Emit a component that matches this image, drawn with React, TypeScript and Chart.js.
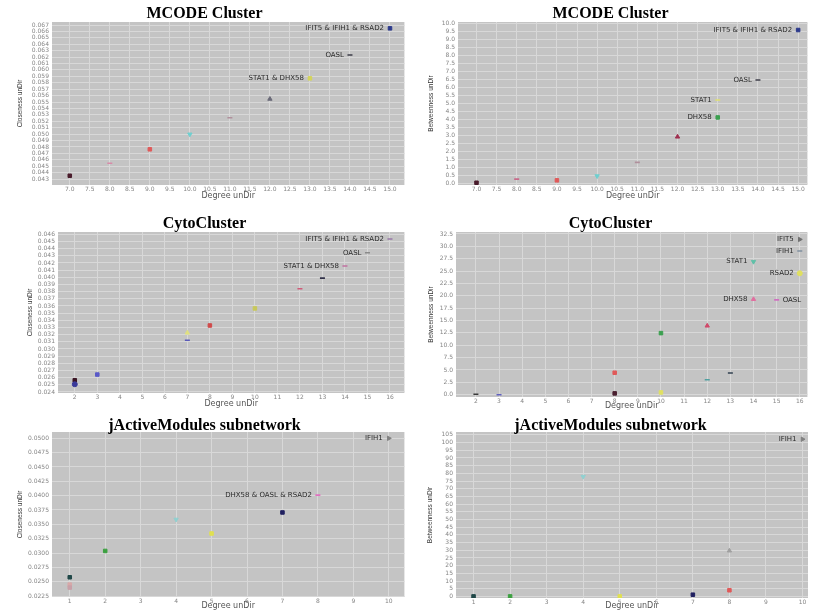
import React, { useEffect, useRef } from 'react';
import { Chart, registerables } from 'chart.js';

Chart.register(...registerables);

// ---------- Panel 1: MCODE Cluster, closeness ----------
const P1_DEGREE = [7, 8, 9, 10, 11, 12, 13, 14, 15];
const P1_CLOSENESS = [0.04351, 0.04545, 0.04763, 0.04997, 0.05255, 0.05547, 0.05869, 0.06232, 0.06648];
const P1_NAMES = ['', '', '', '', '', '', 'STAT1 & DHX58', 'OASL', 'IFIT5 & IFIH1 & RSAD2'];
const P1_X_TICKS = [7.0, 7.5, 8.0, 8.5, 9.0, 9.5, 10.0, 10.5, 11.0, 11.5, 12.0, 12.5, 13.0, 13.5, 14.0, 14.5, 15.0];
const P1_Y_TICKS = [0.043, 0.044, 0.045, 0.046, 0.047, 0.048, 0.049, 0.050, 0.051, 0.052, 0.053, 0.054, 0.055,
  0.056, 0.057, 0.058, 0.059, 0.060, 0.061, 0.062, 0.063, 0.064, 0.065, 0.066, 0.067];

// ---------- Panel 2: MCODE Cluster, betweenness ----------
const P2_DEGREE = [7, 8, 9, 10, 11, 12, 13, 13, 14, 15];
const P2_BETWEENNESS = [0.04, 0.27, 0.19, 0.46, 1.31, 2.91, 5.21, 4.12, 6.46, 9.58];
const P2_NAMES = ['', '', '', '', '', '', 'STAT1', 'DHX58', 'OASL', 'IFIT5 & IFIH1 & RSAD2'];
const P2_X_TICKS = P1_X_TICKS;
const P2_Y_TICKS = [0.0, 0.5, 1.0, 1.5, 2.0, 2.5, 3.0, 3.5, 4.0, 4.5, 5.0, 5.5, 6.0, 6.5, 7.0, 7.5, 8.0, 8.5, 9.0, 9.5, 10.0];

// ---------- Panel 3: CytoCluster, closeness ----------
const P3_DEGREE = [2, 2, 3, 7, 7, 8, 10, 12, 13, 14, 15, 16];
const P3_CLOSENESS = [0.02564, 0.02508, 0.02643, 0.03225, 0.03122, 0.03328, 0.03566, 0.0384, 0.03989, 0.04157, 0.04343, 0.04534];
const P3_NAMES = ['', '', '', '', '', '', '', '', '', 'STAT1 & DHX58', 'OASL', 'IFIT5 & IFIH1 & RSAD2'];
const P3_X_TICKS = [2, 3, 4, 5, 6, 7, 8, 9, 10, 11, 12, 13, 14, 15, 16];
const P3_Y_TICKS = [0.024, 0.025, 0.026, 0.027, 0.028, 0.029, 0.030, 0.031, 0.032, 0.033, 0.034, 0.035,
  0.036, 0.037, 0.038, 0.039, 0.040, 0.041, 0.042, 0.043, 0.044, 0.045, 0.046];

// ---------- Panel 4: CytoCluster, betweenness ----------
const P4_DEGREE = [2, 3, 8, 8, 10, 10, 12, 12, 13, 14, 14, 15, 16, 16, 16];
const P4_BETWEENNESS = [0.1, 0.0, 4.44, 0.26, 12.45, 0.46, 13.93, 3.03, 4.38, 26.9, 19.3, 19.18, 31.4, 29.07, 24.56];
const P4_NAMES = ['', '', '', '', '', '', '', '', '', 'STAT1', 'DHX58', 'OASL', 'IFIT5', 'IFIH1', 'RSAD2'];
const P4_SIDES = ['L', 'L', 'L', 'L', 'L', 'L', 'L', 'L', 'L', 'L', 'L', 'R', 'L', 'L', 'L'];
const P4_X_TICKS = P3_X_TICKS;
const P4_Y_TICKS = [0.0, 2.5, 5.0, 7.5, 10.0, 12.5, 15.0, 17.5, 20.0, 22.5, 25.0, 27.5, 30.0, 32.5];

// ---------- Panel 5: jActiveModules subnetwork, closeness ----------
const P5_DEGREE = [1, 1, 1, 2, 4, 5, 7, 8, 10];
const P5_CLOSENESS = [0.02577, 0.02449, 0.02397, 0.03036, 0.03585, 0.0334, 0.03707, 0.0401, 0.05];
const P5_NAMES = ['', '', '', '', '', '', '', 'DHX58 & OASL & RSAD2', 'IFIH1'];
const P5_X_TICKS = [1, 2, 3, 4, 5, 6, 7, 8, 9, 10];
const P5_Y_TICKS = [0.0225, 0.025, 0.0275, 0.03, 0.0325, 0.035, 0.0375, 0.04, 0.0425, 0.045, 0.0475, 0.05];

// ---------- Panel 6: jActiveModules subnetwork, betweenness ----------
const P6_DEGREE = [1, 2, 4, 5, 7, 8, 8, 10];
const P6_BETWEENNESS = [0, 0, 77.9, 0, 1.1, 29.7, 4.0, 102.2];
const P6_NAMES = ['', '', '', '', '', '', '', 'IFIH1'];
const P6_X_TICKS = P5_X_TICKS;
const P6_Y_TICKS = [0, 5, 10, 15, 20, 25, 30, 35, 40, 45, 50, 55, 60, 65, 70, 75, 80, 85, 90, 95, 100, 105];

// ---------- marker styles ----------
const P1_COLORS = ['#4a1c2c', '#d88aa8', '#e05a5a', '#6fcfcf', '#b0909c', '#6a6a78', '#d4d45a', '#3c3c48', '#2c3a8c'];
const P1_SHAPES = ['sq', 'ln', 'sq', 'td', 'ln', 'tu', 'sq', 'ln', 'sq'];
const P2_COLORS = ['#4a1c2c', '#c86a8a', '#e05a5a', '#6fcfcf', '#b0909c', '#a03050', '#e0e070', '#3ca050', '#3c3c48', '#2c3a8c'];
const P2_SHAPES = ['sq', 'ln', 'sq', 'td', 'ln', 'tu', 'ln', 'sq', 'ln', 'sq'];
const P3_COLORS = ['#3a1424', '#3a3a9a', '#5a5ac8', '#e0e080', '#5a5ab8', '#d04a4a', '#c8c85a', '#d05a78', '#303048', '#c070a0', '#8a8a8a', '#9878a8'];
const P3_SHAPES = ['sq', 'ci', 'sq', 'tu', 'ln', 'sq', 'sq', 'ln', 'ln', 'ln', 'ln', 'ln'];
const P4_COLORS = ['#3a3a3a', '#6060c0', '#e05a5a', '#4a2030', '#3ca050', '#e0e060', '#d04a6a', '#50a0a0', '#304050',
  '#60c0a8', '#e070a0', '#d070c0', '#707070', '#8090a0', '#e0e060'];
const P4_SHAPES = ['ln', 'ln', 'sq', 'sq', 'sq', 'sq', 'tu', 'ln', 'ln', 'td', 'tu', 'ln', 'tr', 'ln', 'ci'];
const P5_COLORS = ['#204848', '#d8a8a8', '#c8a0a8', '#3ca040', '#90d0d0', '#e0e050', '#202060', '#e070c0', '#808080'];
const P5_SHAPES = ['sq', 'sq', 'sq', 'sq', 'td', 'sq', 'sq', 'ln', 'tr'];
const P6_COLORS = ['#204848', '#3ca040', '#90d0d0', '#e0e050', '#202060', '#a0a0a0', '#e05a5a', '#808080'];
const P6_SHAPES = ['sq', 'sq', 'td', 'sq', 'sq', 'tu', 'sq', 'tr'];

type Panel = {
  title: string;
  yTitle: string;
  xs: number[];
  ys: number[];
  names: string[];
  sides?: string[];
  colors: string[];
  shapes: string[];
  xTicks: number[];
  yTicks: number[];
  xDec: number;
  yDec: number;
  xMin: number; xMax: number; yMin: number; yMax: number;
  left: number; top: number; w: number; h: number;
  padR: number; yW: number; xH: number;
  tPadTop: number; tPadBot: number;
  yTitlePad: number; xTitlePad: number;
};

const LEFT_W = 410;
const RIGHT_L = 410;
const RIGHT_W = 403;

const PANELS: Panel[] = [
  {
    title: 'MCODE Cluster', yTitle: 'Closeness unDir', xs: P1_DEGREE, ys: P1_CLOSENESS, names: P1_NAMES,
    colors: P1_COLORS, shapes: P1_SHAPES, xTicks: P1_X_TICKS, yTicks: P1_Y_TICKS, xDec: 1, yDec: 3,
    xMin: 6.556, xMax: 15.36, yMin: 0.04207, yMax: 0.06747,
    left: 0, top: 0, w: LEFT_W, h: 200, padR: 1, yW: 52, xH: 15, tPadTop: 6, tPadBot: 0, yTitlePad: 17, xTitlePad: 0,
  },
  {
    title: 'MCODE Cluster', yTitle: 'Betweenness unDir', xs: P2_DEGREE, ys: P2_BETWEENNESS, names: P2_NAMES,
    colors: P2_COLORS, shapes: P2_SHAPES, xTicks: P2_X_TICKS, yTicks: P2_Y_TICKS, xDec: 1, yDec: 1,
    xMin: 6.54, xMax: 15.23, yMin: -0.1, yMax: 10.08,
    left: RIGHT_L, top: 0, w: RIGHT_W, h: 200, padR: 2, yW: 48, xH: 15, tPadTop: 6, tPadBot: 0, yTitlePad: 18, xTitlePad: 0,
  },
  {
    title: 'CytoCluster', yTitle: 'Closeness unDir', xs: P3_DEGREE, ys: P3_CLOSENESS, names: P3_NAMES,
    colors: P3_COLORS, shapes: P3_SHAPES, xTicks: P3_X_TICKS, yTicks: P3_Y_TICKS, xDec: 0, yDec: 3,
    xMin: 1.255, xMax: 16.64, yMin: 0.02386, yMax: 0.04632,
    left: 0, top: 200, w: LEFT_W, h: 210, padR: 1, yW: 58, xH: 17, tPadTop: 16, tPadBot: 0, yTitlePad: 27, xTitlePad: 2,
  },
  {
    title: 'CytoCluster', yTitle: 'Betweenness unDir', xs: P4_DEGREE, ys: P4_BETWEENNESS, names: P4_NAMES, sides: P4_SIDES,
    colors: P4_COLORS, shapes: P4_SHAPES, xTicks: P4_X_TICKS, yTicks: P4_Y_TICKS, xDec: 0, yDec: 1,
    xMin: 1.14, xMax: 16.33, yMin: -0.47, yMax: 32.9,
    left: RIGHT_L, top: 200, w: RIGHT_W, h: 210, padR: 2, yW: 46, xH: 13, tPadTop: 16, tPadBot: 0, yTitlePad: 18, xTitlePad: 0,
  },
  {
    title: 'jActiveModules subnetwork', yTitle: 'Closeness unDir', xs: P5_DEGREE, ys: P5_CLOSENESS, names: P5_NAMES,
    colors: P5_COLORS, shapes: P5_SHAPES, xTicks: P5_X_TICKS, yTicks: P5_Y_TICKS, xDec: 0, yDec: 4,
    xMin: 0.499, xMax: 10.44, yMin: 0.02233, yMax: 0.0511,
    left: 0, top: 405, w: LEFT_W, h: 205, padR: 1, yW: 52, xH: 13, tPadTop: 13, tPadBot: -2, yTitlePad: 17, xTitlePad: 0,
  },
  {
    title: 'jActiveModules subnetwork', yTitle: 'Betweenness unDir', xs: P6_DEGREE, ys: P6_BETWEENNESS, names: P6_NAMES,
    colors: P6_COLORS, shapes: P6_SHAPES, xTicks: P6_X_TICKS, yTicks: P6_Y_TICKS, xDec: 0, yDec: 0,
    xMin: 0.52, xMax: 10.15, yMin: -1.04, yMax: 106.9,
    left: RIGHT_L, top: 405, w: RIGHT_W, h: 205, padR: 2, yW: 46, xH: 12, tPadTop: 13, tPadBot: -2, yTitlePad: 17, xTitlePad: 0,
  },
];

const shapeStyle = (s: string) => (s === 'ln' ? 'line' : s === 'ci' ? 'circle' : s === 'sq' ? 'rect' : 'triangle');
const shapeRot = (s: string) => (s === 'td' ? 180 : s === 'tr' ? 90 : 0);

const bgPlugin = {
  id: 'plotBg',
  beforeDraw(chart: any) {
    const { ctx, chartArea: a } = chart;
    ctx.save();
    ctx.fillStyle = '#c4c4c4';
    ctx.fillRect(a.left, a.top, a.right - a.left, a.bottom - a.top);
    ctx.restore();
  },
};

function makeLabelPlugin(names: string[], sides?: string[]) {
  return {
    id: 'pointNames',
    afterDatasetsDraw(chart: any) {
      const ctx = chart.ctx;
      const meta = chart.getDatasetMeta(0);
      ctx.save();
      ctx.font = '7px "DejaVu Sans"';
      ctx.fillStyle = '#2a2a2a';
      ctx.textBaseline = 'middle';
      meta.data.forEach((el: any, i: number) => {
        const t = names[i];
        if (!t) return;
        const right = sides && sides[i] === 'R';
        ctx.textAlign = right ? 'left' : 'right';
        ctx.fillText(t, el.x + (right ? 6 : -6), el.y);
      });
      ctx.restore();
    },
  };
}

function PanelChart({ p }: { p: Panel }) {
  const ref = useRef<HTMLCanvasElement>(null);
  useEffect(() => {
    const tickFont = { family: '"DejaVu Sans", sans-serif', size: 6, lineHeight: 1 };
    const chart = new Chart(ref.current as HTMLCanvasElement, {
      type: 'scatter',
      data: {
        datasets: [
          {
            data: p.xs.map((x, i) => ({ x, y: p.ys[i] })),
            backgroundColor: p.colors,
            borderColor: p.colors,
            pointStyle: p.shapes.map(shapeStyle) as any,
            pointRotation: p.shapes.map(shapeRot),
            pointRadius: 2.5,
            pointBorderWidth: p.shapes.map((s) => (s === 'ln' ? 1.6 : 1)),
          } as any,
        ],
      },
      options: {
        responsive: false,
        animation: false,
        events: [],
        layout: { padding: { left: 0, right: p.padR, top: 0, bottom: 0 } },
        plugins: {
          legend: { display: false },
          tooltip: { enabled: false },
          title: {
            display: true,
            text: p.title,
            color: '#000',
            font: { family: '"Liberation Serif", "Times New Roman", serif', size: 16, weight: 'bold', lineHeight: 1 },
            padding: { top: p.tPadTop, bottom: p.tPadBot },
          },
        },
        scales: {
          x: {
            type: 'linear',
            min: p.xMin,
            max: p.xMax,
            afterBuildTicks: (s: any) => {
              s.ticks = p.xTicks.map((v) => ({ value: v }));
            },
            afterFit: (s: any) => {
              s.height = p.xH;
              s.paddingLeft = 0;
              s.paddingRight = 0;
            },
            ticks: {
              autoSkip: false,
              maxRotation: 0,
              padding: 1,
              font: tickFont,
              color: '#858585',
              callback: (v: any) => Number(v).toFixed(p.xDec),
            },
            grid: { color: '#d8d8d8', lineWidth: 1, drawTicks: false },
            border: { display: false },
            title: {
              display: true,
              text: 'Degree unDir',
              color: '#555',
              font: { family: '"DejaVu Sans", sans-serif', size: 8, lineHeight: 1 },
              padding: { top: 0, bottom: p.xTitlePad },
            },
          },
          y: {
            type: 'linear',
            min: p.yMin,
            max: p.yMax,
            afterBuildTicks: (s: any) => {
              s.ticks = p.yTicks.map((v) => ({ value: v }));
            },
            afterFit: (s: any) => {
              s.width = p.yW;
              s.paddingTop = 0;
              s.paddingBottom = 0;
            },
            ticks: {
              autoSkip: false,
              padding: 3,
              font: tickFont,
              color: '#858585',
              callback: (v: any) => Number(v).toFixed(p.yDec),
            },
            grid: { color: '#d8d8d8', lineWidth: 1, drawTicks: false },
            border: { display: false },
            title: {
              display: true,
              text: p.yTitle,
              color: '#333',
              font: { family: '"Liberation Sans", Arial, sans-serif', size: 6.5, lineHeight: 1 },
              padding: { top: p.yTitlePad, bottom: 0 },
            },
          },
        },
      } as any,
      plugins: [bgPlugin, makeLabelPlugin(p.names, p.sides)],
    });
    return () => chart.destroy();
  }, [p]);
  return (
    <canvas
      ref={ref}
      width={p.w}
      height={p.h}
      style={{ position: 'absolute', left: p.left, top: p.top, width: p.w, height: p.h, display: 'block' }}
    />
  );
}

export default function App() {
  return (
    <div style={{ position: 'absolute', left: 0, top: 0, width: 813, height: 610, background: '#fff', overflow: 'hidden' }}>
      {PANELS.map((p, i) => (
        <PanelChart key={i} p={p} />
      ))}
    </div>
  );
}
